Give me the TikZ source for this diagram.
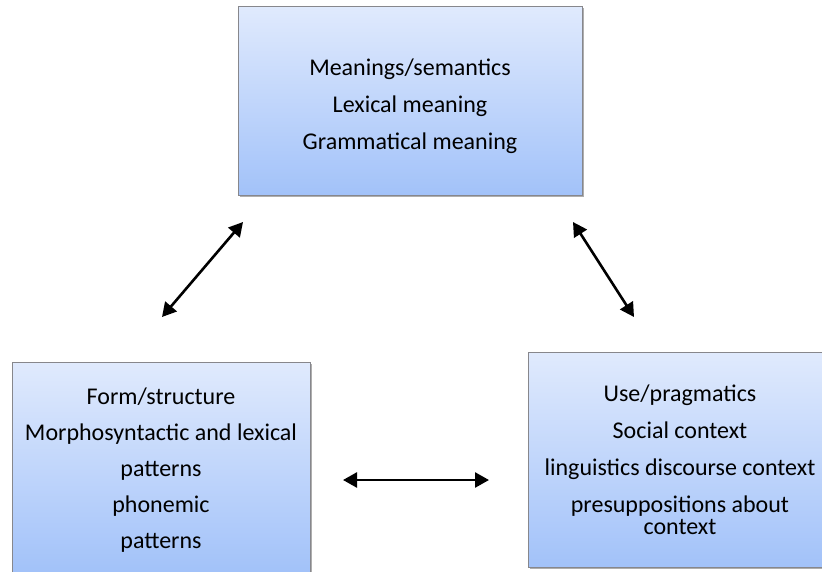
\documentclass[tikz,border=0pt]{standalone}
\usepackage{fontspec}
\setmainfont{Carlito}
\usetikzlibrary{arrows.meta,shadows}
\definecolor{boxtop}{RGB}{224,234,253}
\definecolor{boxbot}{RGB}{162,194,249}
\definecolor{boxedge}{RGB}{135,135,140}
\tikzset{
  panel/.style={draw=boxedge, line width=0.8pt, top color=boxtop, bottom color=boxbot,
    drop shadow={shadow xshift=2pt, shadow yshift=-2pt, opacity=0.45, fill=black!70}},
  label/.style={align=center, font=\fontsize{24}{22}\selectfont, inner sep=0pt},
  link/.style={line width=2.6pt, {Triangle[length=14pt,width=15pt]}-{Triangle[length=14pt,width=15pt]}}
}
\begin{document}
\begin{tikzpicture}[x=1pt,y=-1pt]
\clip (0,0) rectangle (822,571);
\useasboundingbox (0,0) rectangle (822,571);
\path[panel] (238,6) rectangle (582,195);
\path[panel] (12,362) rectangle (310,572);
\path[panel] (528,352) rectangle (826,567);
\node[label] (sem) at (410,106) {Meanings/semantics\\[15pt]Lexical meaning\\[15pt]Grammatical meaning};
\node[label] (form) at (161,470) {Form/structure\\[14pt]Morphosyntactic and lexical\\[14pt]patterns\\[14pt]phonemic\\[14pt]patterns};
\node[label] (use) at (680,459.5) {Use/pragmatics\\[15pt]Social context\\[15pt]linguistics discourse context\\[15pt]presuppositions about\\context};
\coordinate (a1) at (162,317);
\coordinate (a2) at (243,222);
\coordinate (b1) at (573,222);
\coordinate (b2) at (634,317);
\coordinate (c1) at (343,480);
\coordinate (c2) at (489,480);
\draw[link] (a1) -- (a2);
\draw[link] (b1) -- (b2);
\draw[link] (c1) -- (c2);
\end{tikzpicture}
\end{document}
